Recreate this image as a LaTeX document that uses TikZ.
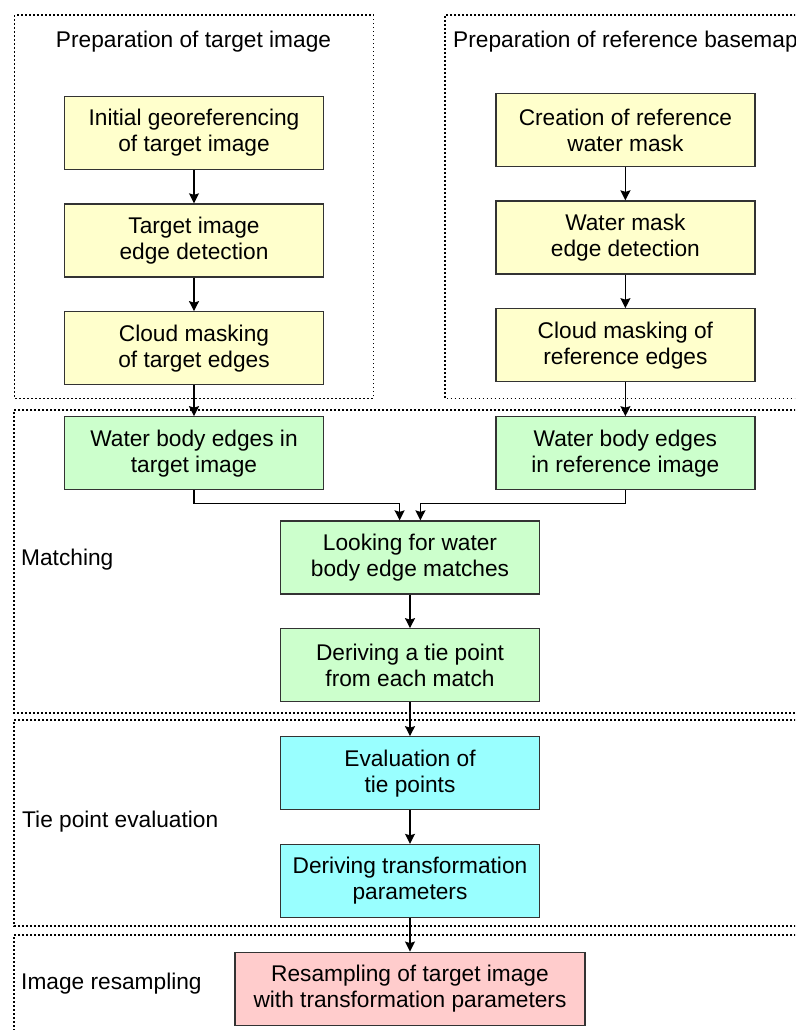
\documentclass[tikz,border=0pt]{standalone}
\usepackage{fontspec}
\setmainfont{Liberation Sans}
\usetikzlibrary{arrows.meta}
\definecolor{yel}{HTML}{FFFFCC}
\definecolor{grn}{HTML}{CCFFCC}
\definecolor{cyn}{HTML}{99FFFF}
\definecolor{pnk}{HTML}{FFCCCC}
\definecolor{bord}{HTML}{333333}
\tikzset{
  procbox/.style={draw=bord, line width=1.3pt, minimum width=259pt, minimum height=73pt,
    align=center, inner sep=2pt, font=\fontsize{22.7}{26}\selectfont},
  yelbox/.style={procbox, fill=yel},
  grnbox/.style={procbox, fill=grn},
  cynbox/.style={procbox, fill=cyn},
  pnkbox/.style={procbox, fill=pnk, minimum width=350pt},
  frame/.style={draw=black, line width=1.1pt, dash pattern=on 1.6pt off 2.4pt},
  lbl/.style={font=\fontsize{22.7}{26}\selectfont, inner sep=0pt},
  arr/.style={draw=black, line width=1.3pt, -{Stealth[length=10pt,width=10pt,inset=1.5pt]}},
}
\begin{document}
\begin{tikzpicture}[x=1pt, y=-1pt]
\clip (0,0) rectangle (795,1030);
\fill[white] (0,0) rectangle (795,1030);
% frames
\draw[frame] (14.7,15) rectangle (373.3,398.3);
\draw[frame] (820,15) -- (445,15) -- (445,398.3) -- (820,398.3);
\draw[frame] (820,410) -- (14,410) -- (14,713) -- (820,713);
\draw[frame] (820,720) -- (14,720) -- (14,926) -- (820,926);
\draw[frame] (820,935) -- (14,935) -- (14,1040);
% titles and labels
\node[lbl] (t1) at (193.5,42) {Preparation of target image};
\node[lbl, anchor=west] (t2) at (453,42) {Preparation of reference basemap};
\node[lbl, anchor=west] (lm) at (21,560) {Matching};
\node[lbl, anchor=west] (lt) at (22,822) {Tie point evaluation};
\node[lbl, anchor=west] (lr) at (21,984) {Image resampling};
% left column
\node[yelbox] (a1) at (194,133) {Initial georeferencing\\of target image};
\node[yelbox] (a2) at (194,240.5) {Target image\\edge detection};
\node[yelbox] (a3) at (194,348.3) {Cloud masking\\of target edges};
\node[grnbox] (a4) at (194,453.3) {Water body edges in\\target image};
% right column
\node[yelbox] (b1) at (625.4,130) {Creation of reference\\water mask};
\node[yelbox] (b2) at (625.4,237.5) {Water mask\\edge detection};
\node[yelbox] (b3) at (625.4,345.3) {Cloud masking of\\reference edges};
\node[grnbox] (b4) at (625.4,453.3) {Water body edges\\in reference image};
% center column
\node[grnbox] (c1) at (410,557.5) {Looking for water\\body edge matches};
\node[grnbox] (c2) at (410,665.3) {Deriving a tie point\\from each match};
\node[cynbox] (c3) at (410,773.3) {Evaluation of\\tie points};
\node[cynbox] (c4) at (410,881) {Deriving transformation\\parameters};
\node[pnkbox] (c5) at (410,988.7) {Resampling of target image\\with transformation parameters};
% connectors
\draw[arr] (a1) -- (a2);
\draw[arr] (a2) -- (a3);
\draw[arr] (a3) -- (a4);
\draw[arr] (b1) -- (b2);
\draw[arr] (b2) -- (b3);
\draw[arr] (b3) -- (b4);
\draw[arr] (a4.south) -- ++(0,12.7) -| ([xshift=-10.4pt]c1.north);
\draw[arr] (b4.south) -- ++(0,12.7) -| ([xshift=10.4pt]c1.north);
\draw[arr] (c1) -- (c2);
\draw[arr] (c2) -- (c3);
\draw[arr] (c3) -- (c4);
\draw[arr] (c4) -- (c5);
\end{tikzpicture}
\end{document}
